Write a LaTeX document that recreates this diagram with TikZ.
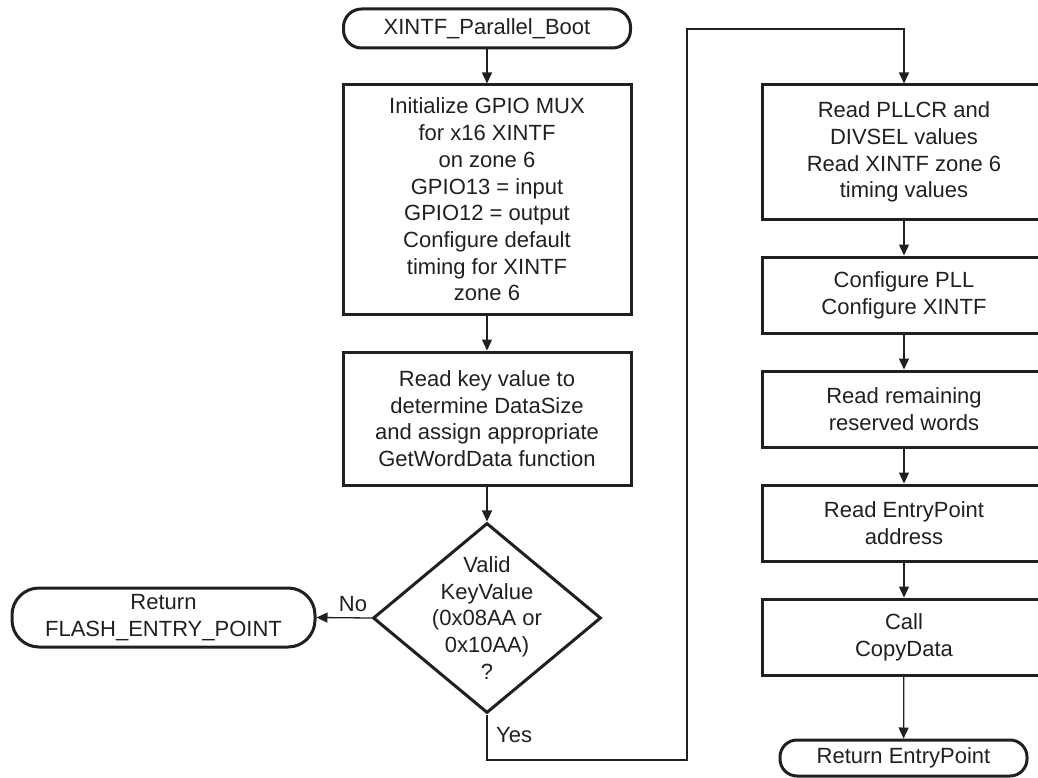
\documentclass[tikz,border=0pt]{standalone}
\usepackage{fontspec}
\setmainfont{Liberation Sans}
\usetikzlibrary{shapes.geometric,arrows.meta}
\definecolor{ink}{HTML}{231F20}
\tikzset{
  box/.style={draw=ink, line width=3pt, rectangle, inner sep=0pt, align=center, text=ink, font=\fontsize{22}{26.7}\selectfont},
  term/.style={draw=ink, line width=3pt, rectangle, inner sep=0pt, align=center, text=ink, font=\fontsize{22}{26.7}\selectfont},
  dec/.style={draw=ink, line width=3pt, diamond, inner sep=0pt},
  conn/.style={draw=ink, line width=1.3pt, -{Triangle[length=11pt,width=10pt]}},
  lbl/.style={text=ink, font=\fontsize{22}{26.7}\selectfont, inner sep=0pt}
}
\begin{document}
\begin{tikzpicture}[x=1pt,y=-1pt]
\useasboundingbox (0,0) rectangle (1038,778);
% left column
\node[term, rounded corners=18pt, minimum width=287pt, minimum height=39pt] (start) at (487,28.5) {XINTF\_Parallel\_Boot};
\node[box, minimum width=288pt, minimum height=229pt] (b1) at (487,199.5) {Initialize GPIO MUX\\for x16 XINTF\\on zone 6\\GPIO13 = input\\GPIO12 = output\\Configure default\\timing for XINTF\\zone 6};
\node[box, minimum width=288pt, minimum height=133pt] (b2) at (487,418.5) {Read key value to\\determine DataSize\\and assign appropriate\\GetWordData function};
\node[dec, minimum width=228pt, minimum height=190pt,
  label={[lbl, align=center]center:Valid\\KeyValue\\(0x08AA or\\0x10AA)\\?}] (d) at (487,618) {};
\node[term, rounded corners=27pt, minimum width=303pt, minimum height=59pt] (ret1) at (163.5,617.5) {Return\\FLASH\_ENTRY\_POINT};
% right column
\node[box, minimum width=284pt, minimum height=134pt] (r1) at (904,152) {Read PLLCR and\\DIVSEL values\\Read XINTF zone 6\\timing values};
\node[box, minimum width=284pt, minimum height=76pt] (r2) at (904,295) {Configure PLL\\Configure XINTF};
\node[box, minimum width=284pt, minimum height=76pt] (r3) at (904,409) {Read remaining\\reserved words};
\node[box, minimum width=284pt, minimum height=76pt] (r4) at (904,523) {Read EntryPoint\\address};
\node[box, minimum width=284pt, minimum height=76pt] (r5) at (904,637) {Call\\CopyData};
\node[term, rounded corners=17pt, minimum width=247pt, minimum height=36pt] (ret2) at (903.5,758) {Return EntryPoint};
% connectors
\draw[conn] (start) -- (b1);
\draw[conn] (b1) -- (b2);
\draw[conn] (b2) -- (d);
\draw[conn] (d.west) -- (ret1.east);
\node[lbl, anchor=south] (no) at (353,612) {No};
\coordinate (y1) at (687,760);
\coordinate (y2) at (687,29);
\draw[conn] (d.south) |- (y1) -- (y2) -| (r1.north);
\node[lbl, anchor=west] (yes) at (496,735) {Yes};
\draw[conn] (r1) -- (r2);
\draw[conn] (r2) -- (r3);
\draw[conn] (r3) -- (r4);
\draw[conn] (r4) -- (r5);
\draw[conn] (r5) -- (ret2);
\end{tikzpicture}
\end{document}
